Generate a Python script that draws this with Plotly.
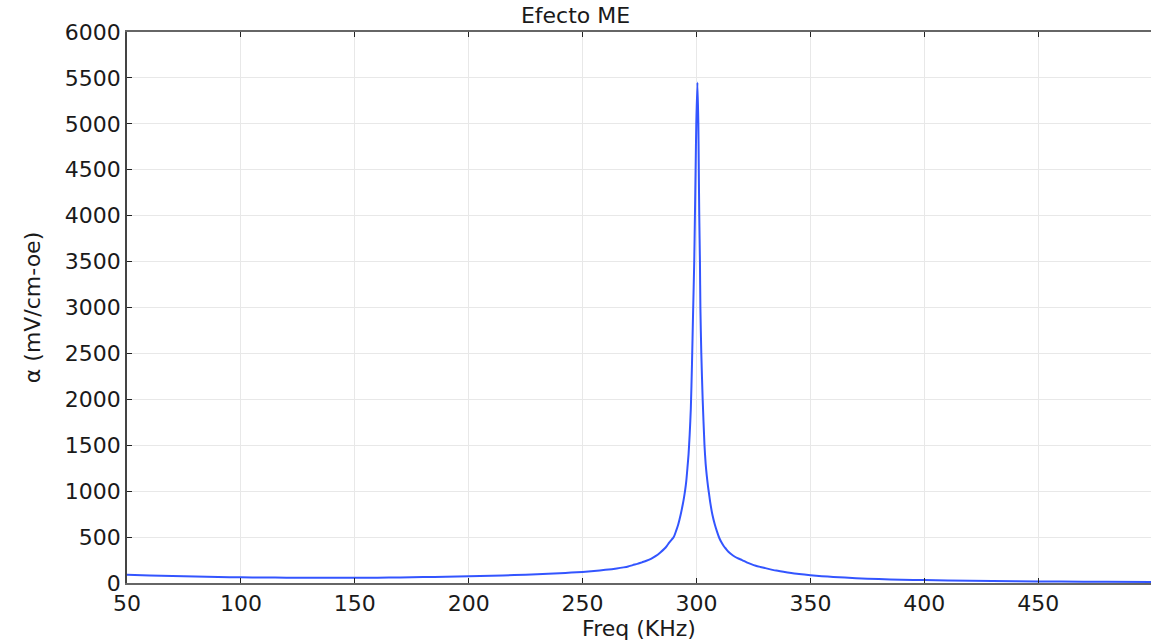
import plotly.graph_objects as go

# Frequency (kHz) and ME coefficient alpha (mV/cm-Oe)
freq_khz = [50, 60, 70, 80, 90, 100, 110, 120, 130, 140, 150, 160, 170, 180, 190,
            200, 210, 220, 230, 240, 245, 250, 255, 260, 265, 268, 270, 272, 274,
            276, 278, 280, 282, 284, 286, 287, 288, 289, 290, 291, 292, 293, 294,
            294.5, 295, 295.5, 296, 296.5, 297, 297.5, 298, 298.5, 299,
            299.3, 299.6, 299.9, 300.4, 300.8, 301.0, 301.2, 301.5, 301.7, 302.1,
            302.7, 303.5, 304, 304.5, 305, 305.5, 306, 307, 308, 309, 310, 311,
            312, 313, 314, 316, 318, 320, 322, 324, 326, 328, 330, 335, 340, 345,
            350, 355, 360, 370, 380, 390, 400, 420, 440, 460, 480, 499.5]
alpha_mv = [90, 82, 75, 70, 66, 62, 60, 58, 57, 56, 56, 58, 61, 64, 68,
            73, 79, 86, 95, 106, 113, 121, 131, 143, 158, 170, 180, 195, 208,
            225, 242, 262, 292, 330, 375, 405, 440, 470, 500, 565, 640, 740, 860,
            930, 1010, 1110, 1250, 1400, 1620, 1900, 2380, 2950, 3500,
            4000, 4500, 5000, 5450, 5000, 4500, 4000, 3500, 3000, 2500,
            2000, 1500, 1300, 1170, 1060, 970, 880, 740, 640, 560, 490, 440,
            400, 370, 340, 300, 270, 250, 225, 205, 188, 175, 163, 135, 115, 97,
            84, 74, 66, 52, 43, 36, 32, 24, 19, 16, 13, 11]

x_ticks = [50, 100, 150, 200, 250, 300, 350, 400, 450]
y_ticks = list(range(0, 6001, 500))

font_family = "DejaVu Sans"
txt = "#1a1a1a"
fs = 22

fig = go.Figure()
fig.add_trace(go.Scatter(
    x=freq_khz, y=alpha_mv, mode="lines",
    line=dict(color="#3355ff", width=2, shape="spline", smoothing=0.6),
    showlegend=False, hoverinfo="x+y",
))

fig.update_layout(
    width=1151, height=641,
    margin=dict(l=127, r=0, t=32, b=58),
    paper_bgcolor="white", plot_bgcolor="white",
    font=dict(family=font_family, size=fs, color=txt),
    title=dict(text="Efecto ME", x=0.5, xref="container", xanchor="center",
               y=1 - 15 / 641, yref="container", yanchor="middle",
               font=dict(family=font_family, size=fs, color=txt)),
)

fig.update_xaxes(
    range=[50, 499.5], tickvals=x_ticks, ticktext=[str(v) for v in x_ticks],
    ticks="inside", ticklen=5, tickcolor="#222", tickwidth=1,
    showline=True, linecolor="#666", linewidth=2, mirror="ticks",
    showgrid=True, gridcolor="#e8e8e8", gridwidth=1, zeroline=False,
    title=dict(text="Freq (KHz)", standoff=0, font=dict(size=fs)),
    tickfont=dict(size=fs),
)
fig.update_yaxes(
    range=[0, 6000], tickvals=y_ticks, ticktext=[str(v) for v in y_ticks],
    ticks="inside", ticklen=5, tickcolor="#222", tickwidth=1,
    showline=True, linecolor="#444", linewidth=1.5, mirror=False,
    showgrid=True, gridcolor="#e8e8e8", gridwidth=1, zeroline=False,
    title=dict(text="α (mV/cm-oe)", standoff=18, font=dict(size=fs)),
    tickfont=dict(size=fs),
)

fig.write_html("out.html")
